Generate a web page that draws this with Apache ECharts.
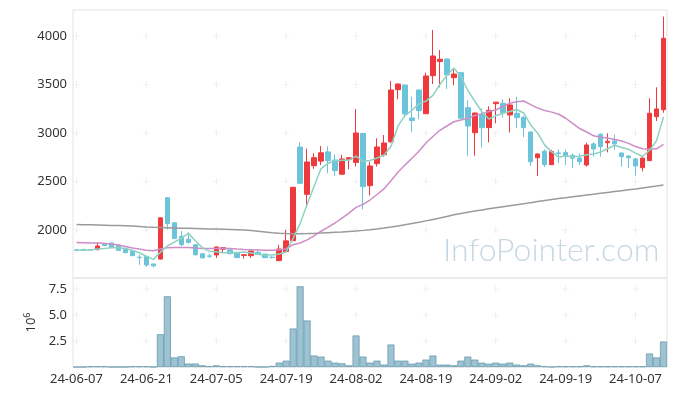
<!DOCTYPE html>
<html><head><meta charset="utf-8">
<script src="https://cdn.jsdelivr.net/npm/echarts@6/dist/echarts.min.js"></script>
<style>html,body{margin:0;padding:0;background:#fff}#c{width:677px;height:396px}</style>
</head><body><div id="c"></div>
<script>
const dates = ['24-06-07','24-06-10','24-06-11','24-06-12','24-06-13','24-06-14','24-06-17','24-06-18','24-06-19','24-06-20',
'24-06-21','24-06-24','24-06-25','24-06-26','24-06-27','24-06-28','24-07-01','24-07-02','24-07-03','24-07-04',
'24-07-05','24-07-08','24-07-09','24-07-10','24-07-11','24-07-12','24-07-15','24-07-16','24-07-17','24-07-18',
'24-07-19','24-07-22','24-07-23','24-07-24','24-07-25','24-07-26','24-07-29','24-07-30','24-07-31','24-08-01',
'24-08-02','24-08-05','24-08-06','24-08-07','24-08-08','24-08-09','24-08-12','24-08-13','24-08-14','24-08-16',
'24-08-19','24-08-20','24-08-21','24-08-22','24-08-23','24-08-26','24-08-27','24-08-28','24-08-29','24-08-30',
'24-09-02','24-09-03','24-09-04','24-09-05','24-09-06','24-09-09','24-09-10','24-09-11','24-09-12','24-09-13',
'24-09-19','24-09-20','24-09-23','24-09-24','24-09-25','24-09-26','24-09-27','24-09-30','24-10-02','24-10-04',
'24-10-07','24-10-08','24-10-10','24-10-11','24-10-14'];

const opens = [1795,1800,1797,1801,1850,1866,1842,1811,1787,1720,
1727,1650,1700,2333,2075,1935,1905,1848,1755,1733,
1742,1802,1795,1765,1738,1735,1770,1752,1720,1684,
1778,1890,2855,2368,2663,2710,2805,2722,2575,2728,
2697,2995,2457,2684,2776,2910,3446,3495,3155,3443,
3199,3591,3737,3763,3570,3622,3261,3003,3193,3055,
3302,3306,3186,3203,3162,3010,2745,2811,2673,2795,
2800,2770,2742,2670,2887,2987,2900,2918,2794,2763,
2732,2642,2715,3168,3240];

const closes = [1790,1790,1793,1835,1840,1820,1790,1766,1735,1715,
1639,1631,2125,2065,1913,1848,1872,1745,1712,1728,
1825,1818,1755,1715,1745,1783,1746,1715,1716,1804,
1888,2440,2481,2701,2746,2796,2715,2612,2732,2745,
3000,2447,2660,2856,2897,3443,3505,3196,3128,3230,
3588,3794,3760,3598,3608,3152,3072,3206,3055,3234,
3318,3209,3289,3158,3055,2704,2784,2673,2808,2788,
2765,2740,2704,2876,2835,2859,2914,2887,2756,2745,
2660,2742,3203,3248,3976];

const highs = [1800,1803,1800,1873,1855,1868,1845,1813,1790,1745,
1730,1652,2127,2340,2078,1988,1975,1850,1758,1752,
1828,1820,1797,1767,1748,1785,1790,1755,1728,1848,
2000,2442,2904,2838,2790,2865,2862,2780,2775,2748,
3247,3000,2705,2945,2979,3536,3510,3497,3374,3450,
3622,4062,3856,3765,3650,3630,3340,3210,3255,3275,
3320,3348,3358,3374,3175,3015,2787,2830,2825,2830,
2830,2790,2790,2900,2905,2995,2997,2983,2800,2768,
2745,2745,3358,3471,4200];

const lows = [1785,1788,1790,1787,1835,1815,1788,1763,1732,1640,
1618,1612,1698,2005,1905,1835,1862,1735,1710,1710,
1712,1762,1753,1711,1706,1712,1742,1710,1705,1680,
1775,1888,2478,2232,2630,2670,2585,2560,2572,2625,
2655,2213,2357,2653,2756,2900,3348,3168,3007,3141,
3195,3505,3471,3454,3492,3140,2766,2766,2850,2904,
3100,3158,3005,3049,2956,2660,2557,2650,2670,2688,
2668,2640,2670,2653,2756,2756,2801,2825,2653,2638,
2560,2605,2712,3124,3209];

const ma5 = [1790,1792,1795,1805,1810,1816,1816,1810,1790,1765,
1729,1697,1769,1835,1875,1916,1965,1889,1818,1781,
1776,1766,1768,1768,1772,1763,1749,1741,1741,1753,
1774,1913,2066,2263,2451,2633,2688,2714,2720,2720,
2761,2707,2717,2742,2772,2861,3072,3179,3234,3300,
3329,3387,3500,3594,3670,3582,3438,3327,3219,3144,
3177,3204,3221,3242,3206,3083,2998,2875,2805,2751,
2764,2755,2761,2775,2784,2803,2838,2874,2850,2832,
2792,2758,2821,2920,3166];

const ma20 = [1870,1868,1866,1865,1862,1855,1845,1830,1815,1803,
1792,1786,1805,1817,1820,1819,1820,1815,1810,1808,
1809,1811,1809,1803,1798,1796,1794,1792,1791,1795,
1807,1848,1866,1898,1939,1987,2029,2072,2123,2174,
2233,2264,2309,2366,2424,2507,2595,2669,2740,2811,
2896,2964,3028,3072,3116,3133,3151,3181,3197,3221,
3237,3275,3307,3322,3330,3293,3257,3231,3215,3193,
3152,3099,3046,3010,2971,2957,2949,2933,2918,2893,
2860,2837,2833,2837,2883];

const ma120 = [2056,2055,2053,2051,2049,2047,2045,2043,2040,2036,
2030,2027,2025,2023,2021,2019,2017,2015,2013,2011,
2009,2007,2005,2003,2000,1995,1988,1980,1972,1967,
1964,1962,1962,1963,1965,1968,1972,1976,1980,1985,
1990,1996,2003,2011,2020,2030,2042,2055,2067,2079,
2094,2109,2124,2140,2156,2170,2183,2195,2207,2218,
2229,2240,2250,2260,2270,2282,2293,2304,2315,2324,
2333,2342,2351,2360,2369,2378,2387,2396,2405,2414,
2423,2433,2443,2453,2464];

const volume = [0,0,0.06,0.06,0.06,0,0,0,0.06,0.06,
0.06,0,3.15,6.8,0.92,1.03,0.33,0.33,0.16,0.07,
0.16,0.07,0.07,0.07,0.07,0.07,0,0,0.1,0.42,
0.61,3.7,7.76,4.47,1.1,1.0,0.61,0.42,0.35,0.16,
3.03,1.0,0.42,0.61,0.23,2.16,0.61,0.61,0.32,0.42,
0.71,1.1,0.23,0.23,0.16,0.61,1.0,0.71,0.42,0.32,
0.42,0.32,0.42,0.23,0.16,0.32,0.16,0.06,0,0.06,
0.06,0.06,0.06,0.16,0.06,0.06,0.06,0.06,0.06,0.06,
0.06,0.06,1.3,0.92,2.45];

const priceTicks = [2000,2500,3000,3500,4000];
const volTicks = [2.5,5,7.5];
const labelEvery = 10;

const FONT = 'Noto Sans';
const candles = dates.map((d,i)=>[opens[i],closes[i],lows[i],highs[i]]);
const tickCats = dates.filter((d,i)=>i%labelEvery===0);
const priceCross = [], volCross = [];
tickCats.forEach(c=>{ priceTicks.forEach(v=>priceCross.push([c,v])); volTicks.forEach(v=>volCross.push([c,v])); });
const PLUS = 'path://M4.5,0h1v10h-1zM0,4.5h10v1h-10z';

const chart = echarts.init(document.getElementById('c'), null, {renderer:'canvas'});
chart.setOption({
  animation:false,
  backgroundColor:'#fff',
  grid:[
    {left:73, top:10, width:594, height:268, show:true, borderColor:'#e4e4e4', borderWidth:1},
    {left:73, top:278, width:594, height:89, show:true, borderColor:'#e4e4e4', borderWidth:1}
  ],
  graphic:[{type:'text', left:443, top:235, z:0, silent:true,
    style:{text:'InfoPointer.com', fill:'#c5d8e2', font:'300 32px Lato'}}],
  xAxis:[
    {type:'category', gridIndex:0, data:dates, axisLine:{show:false}, axisTick:{show:false}, axisLabel:{show:false}, splitLine:{show:false}},
    {type:'category', gridIndex:1, data:dates, axisLine:{show:false}, axisTick:{show:false}, splitLine:{show:false},
     axisLabel:{interval:labelEvery-1, color:'#333', fontSize:13, fontFamily:FONT, margin:6}}
  ],
  yAxis:[
    {type:'value', gridIndex:0, min:1505, max:4268, axisLine:{show:false}, axisTick:{show:false}, splitLine:{show:false},
     axisLabel:{customValues:priceTicks, color:'#333', fontSize:13, fontFamily:FONT, margin:6, formatter:v=>String(Math.round(v))}},
    {type:'value', gridIndex:1, min:0, max:8.56, axisLine:{show:false}, axisTick:{show:false}, splitLine:{show:false},
     axisLabel:{customValues:volTicks, color:'#333', fontSize:13, fontFamily:FONT, margin:6, formatter:v=>v.toFixed(1)},
     name:'10{s|6}', nameLocation:'middle', nameRotate:90, nameGap:34,
     nameTextStyle:{color:'#333', fontSize:13, fontFamily:FONT, rich:{s:{fontSize:9, fontFamily:FONT, color:'#333', verticalAlign:'top', padding:[0,0,7,0]}}}}
  ],
  series:[
    {type:'scatter', xAxisIndex:0, yAxisIndex:0, data:priceCross, symbol:PLUS, symbolSize:7, silent:true, z:1,
     itemStyle:{color:'#e2e2e2'}},
    {type:'scatter', xAxisIndex:1, yAxisIndex:1, data:volCross, symbol:PLUS, symbolSize:7, silent:true, z:1,
     itemStyle:{color:'#e2e2e2'}},
    {type:'candlestick', xAxisIndex:0, yAxisIndex:0, data:candles, barWidth:5, z:3,
     itemStyle:{color:'#ef3a3d', color0:'#6cc4da', borderColor:'#ef3a3d', borderColor0:'#6cc4da', borderWidth:1}},
    {type:'line', xAxisIndex:0, yAxisIndex:0, data:ma120, symbol:'none', z:4, lineStyle:{color:'#9a9a9a', width:1.5}},
    {type:'line', xAxisIndex:0, yAxisIndex:0, data:ma20, symbol:'none', z:4, lineStyle:{color:'#cd8dc6', width:1.5}},
    {type:'line', xAxisIndex:0, yAxisIndex:0, data:ma5, symbol:'none', z:4, lineStyle:{color:'#8fd2c3', width:1.5}},
    {type:'bar', xAxisIndex:1, yAxisIndex:1, data:volume, barWidth:'100%', barCategoryGap:'0%', z:3,
     itemStyle:{color:'#9dc3d3', borderColor:'#5f93a9', borderWidth:0.7}}
  ]
});
</script>
</body></html>
